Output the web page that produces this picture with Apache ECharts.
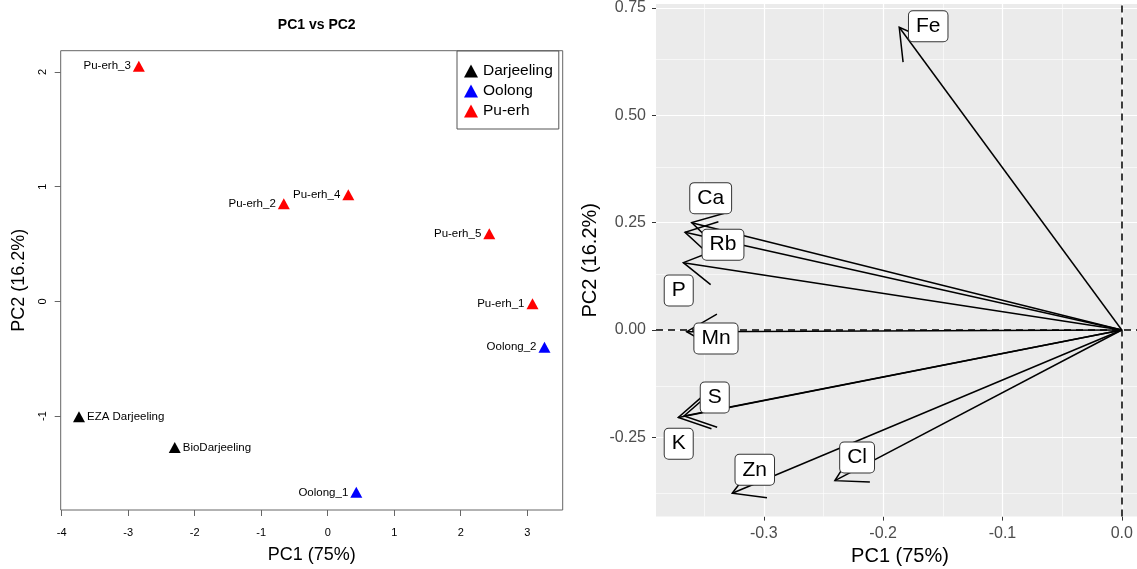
<!DOCTYPE html>
<html>
<head>
<meta charset="utf-8">
<script src="https://cdn.jsdelivr.net/npm/echarts@6/dist/echarts.min.js"></script>
<style>html,body{margin:0;padding:0;background:#fff}#c{width:1137px;height:569px}</style>
</head>
<body>
<div id="c"></div>
<script>
// ---------- Left panel: PCA scores ----------
const darjeelingNames = ['EZA Darjeeling', 'BioDarjeeling'];
const darjeelingPC1 = [-3.74, -2.30];
const darjeelingPC2 = [-1.005, -1.275];

const oolongNames = ['Oolong_1', 'Oolong_2'];
const oolongPC1 = [0.43, 3.26];
const oolongPC2 = [-1.665, -0.40];

const puerhNames = ['Pu-erh_1', 'Pu-erh_2', 'Pu-erh_3', 'Pu-erh_4', 'Pu-erh_5'];
const puerhPC1 = [3.08, -0.66, -2.84, 0.31, 2.43];
const puerhPC2 = [-0.02, 0.85, 2.05, 0.93, 0.59];

const leftXTicks = [-4, -3, -2, -1, 0, 1, 2, 3];
const leftYTicks = [-1, 0, 1, 2];

// ---------- Right panel: loadings ----------
const elements = ['Fe', 'Ca', 'Rb', 'P', 'Mn', 'S', 'K', 'Zn', 'Cl'];
const loadPC1 = [-0.1865, -0.3604, -0.3660, -0.3674, -0.3646, -0.3668, -0.3716, -0.3264, -0.2404];
const loadPC2 = [0.705, 0.250, 0.2276, 0.1568, -0.004, -0.2003, -0.2038, -0.3804, -0.351];

const rightXTicks = [-0.3, -0.2, -0.1, 0.0];
const rightXMinor = [-0.35, -0.25, -0.15, -0.05];
const rightYTicks = [-0.25, 0.0, 0.25, 0.50, 0.75];
const rightYMinor = [-0.375, -0.125, 0.125, 0.375, 0.625];

// label nudges in pixels relative to arrow tip (layout, like ggrepel)
const labelNudge = [[29, -1], [19, -24.5], [38, 12.4], [-4.6, 27.8], [29.3, 6.8], [30.7, -18.5], [0.4, 26.2], [22.5, -23.5], [22.2, -23.2]];

const FONT = '"Liberation Sans", Arial, sans-serif';

function pts(xs, ys, names) { return xs.map((x, i) => [x, ys[i], names[i]]); }

const chart = echarts.init(document.getElementById('c'), null, {renderer: 'canvas'});

const scatterLabel = (pos) => ({
  show: true, position: pos, distance: 2, formatter: p => p.data[2],
  color: '#000', fontSize: 11.5, fontFamily: FONT
});

const loadData = loadPC1.map((x, i) => [x, loadPC2[i], elements[i], labelNudge[i][0], labelNudge[i][1]]);

const option = {
  animation: false,
  backgroundColor: '#fff',
  textStyle: {fontFamily: FONT},
  title: {
    text: 'PC1 vs PC2', left: 311.7, top: 13, textAlign: 'center',
    textStyle: {fontSize: 14, fontWeight: 'bold', color: '#000', fontFamily: FONT}
  },
  legend: {
    data: ['Darjeeling', 'Oolong', 'Pu-erh'],
    orient: 'vertical', left: 457, top: 51,
    itemWidth: 14, itemHeight: 13, itemGap: 4,
    padding: [12, 6, 10, 7],
    borderColor: '#555', borderWidth: 1, borderRadius: 0,
    backgroundColor: '#fff',
    icon: 'triangle',
    textStyle: {fontSize: 15.5, color: '#000', fontFamily: FONT}
  },
  grid: [
    {left: 60.7, right: 574.3, top: 50.7, bottom: 59, show: true, borderColor: '#666', borderWidth: 1,
     backgroundColor: '#fff', outerBoundsMode: 'none', containLabel: false},
    {left: 656, right: -7, top: 4, bottom: 52.4, show: true, borderWidth: 0,
     backgroundColor: '#EBEBEB', outerBoundsMode: 'none', containLabel: false}
  ],
  xAxis: [
    {gridIndex: 0, type: 'value', min: -4.015, max: 3.534, position: 'bottom',
     axisLine: {show: false, onZero: false},
     axisTick: {show: true, length: 6, customValues: leftXTicks, lineStyle: {color: '#666'}},
     axisLabel: {customValues: leftXTicks, margin: 17, fontSize: 11, color: '#000', fontFamily: FONT},
     splitLine: {show: false},
     name: 'PC1 (75%)', nameLocation: 'middle', nameGap: 36,
     nameTextStyle: {fontSize: 18, color: '#000', fontFamily: FONT}},
    {gridIndex: 1, type: 'value', min: -0.3903, max: 0.0186, position: 'bottom',
     axisLine: {show: false, onZero: false},
     axisTick: {show: true, length: 4, customValues: rightXTicks, lineStyle: {color: '#333', width: 1}},
     axisLabel: {customValues: rightXTicks, margin: 9, fontSize: 16, color: '#4D4D4D', fontFamily: FONT,
                 formatter: v => v.toFixed(1)},
     splitLine: {show: false},
     name: 'PC1 (75%)', nameLocation: 'middle', nameGap: 30,
     nameTextStyle: {fontSize: 20, color: '#000', fontFamily: FONT}}
  ],
  yAxis: [
    {gridIndex: 0, type: 'value', min: -1.819, max: 2.185, position: 'left',
     axisLine: {show: false, onZero: false},
     axisTick: {show: true, length: 6, customValues: leftYTicks, lineStyle: {color: '#666'}},
     axisLabel: {customValues: leftYTicks, margin: 12, rotate: 90, fontSize: 11, color: '#000', fontFamily: FONT},
     splitLine: {show: false},
     name: 'PC2 (16.2%)', nameLocation: 'middle', nameGap: 33,
     nameTextStyle: {fontSize: 18, color: '#000', fontFamily: FONT}},
    {gridIndex: 1, type: 'value', min: -0.4347, max: 0.7593, position: 'left',
     axisLine: {show: false, onZero: false},
     axisTick: {show: true, length: 4, customValues: rightYTicks, lineStyle: {color: '#333', width: 1}},
     axisLabel: {customValues: rightYTicks, margin: 10, fontSize: 16, color: '#4D4D4D', fontFamily: FONT,
                 formatter: v => v.toFixed(2)},
     splitLine: {show: false},
     name: 'PC2 (16.2%)', nameLocation: 'middle', nameGap: 56,
     nameTextStyle: {fontSize: 20, color: '#000', fontFamily: FONT}}
  ],
  series: [
    {name: 'Darjeeling', type: 'scatter', xAxisIndex: 0, yAxisIndex: 0,
     symbol: 'triangle', symbolSize: [12, 11], itemStyle: {color: '#000', opacity: 1},
     data: pts(darjeelingPC1, darjeelingPC2, darjeelingNames), label: scatterLabel('right')},
    {name: 'Oolong', type: 'scatter', xAxisIndex: 0, yAxisIndex: 0,
     symbol: 'triangle', symbolSize: [12, 11], itemStyle: {color: '#0000FF', opacity: 1},
     data: pts(oolongPC1, oolongPC2, oolongNames), label: scatterLabel('left')},
    {name: 'Pu-erh', type: 'scatter', xAxisIndex: 0, yAxisIndex: 0,
     symbol: 'triangle', symbolSize: [12, 11], itemStyle: {color: '#FF0000', opacity: 1},
     data: pts(puerhPC1, puerhPC2, puerhNames), label: scatterLabel('left')},
    // ggplot grid lines
    {name: 'grid', type: 'line', xAxisIndex: 1, yAxisIndex: 1, data: [], silent: true, z: 1,
     markLine: {
       silent: true, symbol: 'none', z: 1, label: {show: false}, animation: false,
       data: [].concat(
         rightXMinor.map(v => ({xAxis: v, lineStyle: {color: '#fff', width: 0.6, type: 'solid'}})),
         rightYMinor.map(v => ({yAxis: v, lineStyle: {color: '#fff', width: 0.6, type: 'solid'}})),
         rightXTicks.map(v => ({xAxis: v, lineStyle: {color: '#fff', width: 1.2, type: 'solid'}})),
         rightYTicks.map(v => ({yAxis: v, lineStyle: {color: '#fff', width: 1.2, type: 'solid'}}))
       )
     }},
    // dashed zero lines
    {name: 'zero', type: 'line', xAxisIndex: 1, yAxisIndex: 1, data: [], silent: true, z: 2,
     markLine: {
       silent: true, symbol: 'none', z: 2, label: {show: false}, animation: false,
       lineStyle: {color: '#000', width: 1.5, type: [7, 5]},
       data: [{xAxis: 0}, {yAxis: 0}]
     }},
    // arrows
    {name: 'arrows', type: 'custom', xAxisIndex: 1, yAxisIndex: 1, z: 3, silent: true,
     encode: {x: 0, y: 1},
     data: loadData,
     renderItem: function (params, api) {
       const o = api.coord([0, 0]);
       const t = api.coord([api.value(0), api.value(1)]);
       const ang = Math.atan2(o[1] - t[1], o[0] - t[0]);
       const L = 35, a = Math.PI / 6;
       const b1 = [t[0] + L * Math.cos(ang + a), t[1] + L * Math.sin(ang + a)];
       const b2 = [t[0] + L * Math.cos(ang - a), t[1] + L * Math.sin(ang - a)];
       return {type: 'group', children: [
         {type: 'line', shape: {x1: o[0], y1: o[1], x2: t[0], y2: t[1]}, style: {stroke: '#000', lineWidth: 1.5}},
         {type: 'polyline', shape: {points: [b1, t, b2]}, style: {stroke: '#000', fill: null, lineWidth: 1.5}}
       ]};
     }},
    // labels
    {name: 'labels', type: 'custom', xAxisIndex: 1, yAxisIndex: 1, z: 4, silent: true,
     encode: {x: 0, y: 1},
     data: loadData,
     renderItem: function (params, api) {
       const t = api.coord([api.value(0), api.value(1)]);
       const d = loadData[params.dataIndex];
       return {type: 'text', x: t[0] + d[3], y: t[1] + d[4], style: {
         text: d[2], fontSize: 21, fontFamily: FONT, fill: '#000',
         align: 'center', verticalAlign: 'middle',
         backgroundColor: '#fff', borderColor: '#333', borderWidth: 1, borderRadius: 4,
         padding: [5, 7, 4, 7]
       }};
     }}
  ]
};
chart.setOption(option);
</script>
</body>
</html>
